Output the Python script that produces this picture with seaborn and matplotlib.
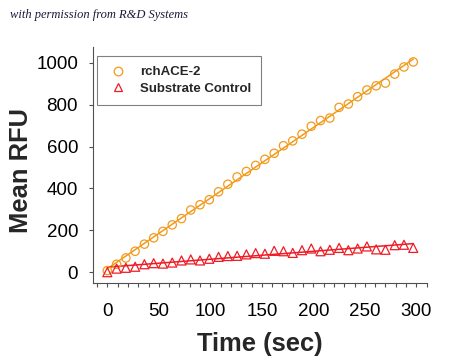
import matplotlib
matplotlib.use("Agg")
import matplotlib.pyplot as plt
from matplotlib.lines import Line2D
from matplotlib.ticker import MultipleLocator
import numpy as np
import pandas as pd
import seaborn as sns

# time points (sec), one reading every 9 s
time_sec = [0, 9, 18, 27, 36, 45, 54, 63, 72, 81, 90, 99, 108, 117, 126, 135, 144,
            153, 162, 171, 180, 189, 198, 207, 216, 225, 234, 243, 252, 261, 270,
            279, 288, 297]
rchace2 = [8, 38, 68, 100, 134, 164, 195, 226, 256, 297, 322, 346, 384, 420, 455,
           481, 510, 539, 568, 604, 627, 659, 697, 724, 736, 787, 803, 838, 870,
           890, 903, 946, 980, 1004]
substrate_ctrl = [0, 17, 21, 26, 38, 43, 41, 46, 56, 61, 56, 64, 73, 77, 78, 85, 91,
                  88, 102, 100, 92, 105, 113, 100, 107, 116, 105, 113, 123, 109,
                  107, 129, 131, 116]

df = pd.DataFrame({"time": time_sec, "rchACE-2": rchace2,
                   "Substrate Control": substrate_ctrl})

orange = "#F29A1C"
red = "#EE1C25"

sns.set_style("ticks")
plt.rcParams["font.family"] = ["Liberation Sans", "DejaVu Sans"]

fig = plt.figure(figsize=(4.5, 3.62), dpi=100)
ax = fig.add_axes([0.206, 0.218, 0.743, 0.652])

for name, col, mk, sz in [("rchACE-2", orange, "o", 36), ("Substrate Control", red, "^", 42)]:
    sns.regplot(x="time", y=name, data=df, ax=ax, ci=None, scatter=False,
                truncate=True, color=col, line_kws={"linewidth": 1.1})
    sns.scatterplot(x="time", y=name, data=df, ax=ax, marker=mk, s=sz,
                    facecolor="none", edgecolor=col, linewidth=0.9, zorder=3)

ax.set_xlim(-14.2, 310.4)
ax.set_ylim(-52, 1075)
ax.xaxis.set_major_locator(MultipleLocator(50))
ax.xaxis.set_minor_locator(MultipleLocator(10))
ax.yaxis.set_major_locator(MultipleLocator(200))
ax.tick_params(axis="both", which="both", direction="out", length=3,
               width=0.8, colors="#505050", labelcolor="black", labelsize=13.5)
ax.tick_params(axis="x", pad=11)
ax.tick_params(axis="y", pad=7.5)
sns.despine(ax=ax)
for s in ["left", "bottom"]:
    ax.spines[s].set_color("#505050")
    ax.spines[s].set_linewidth(0.8)

ax.set_xlabel("Time (sec)", fontsize=18.4, fontweight="bold", labelpad=9)
ax.set_ylabel("Mean RFU", fontsize=18.4, fontweight="bold")
ax.yaxis.set_label_coords(-0.18, 0.475)

handles = [
    Line2D([], [], linestyle="none", marker="o", markersize=6.2,
           markerfacecolor="none", markeredgecolor=orange, markeredgewidth=0.9),
    Line2D([], [], linestyle="none", marker="^", markersize=6.2,
           markerfacecolor="none", markeredgecolor=red, markeredgewidth=0.9),
]
leg = ax.legend(handles, ["rchACE-2", "Substrate Control"], loc="upper left",
                bbox_to_anchor=(0.012, 0.962), borderaxespad=0,
                prop={"weight": "bold", "size": 9.5},
                frameon=True, fancybox=False, edgecolor="#606060",
                handletextpad=0.86, borderpad=0.75, labelspacing=0.35,
                handlelength=1.67)
leg.get_frame().set_linewidth(0.8)

fig.text(0.022, 0.958, "with permission from R&D Systems", fontsize=9,
         style="italic", family="Liberation Serif", color="#1a1a3a", va="center")

fig.savefig("out.png", dpi=100)
